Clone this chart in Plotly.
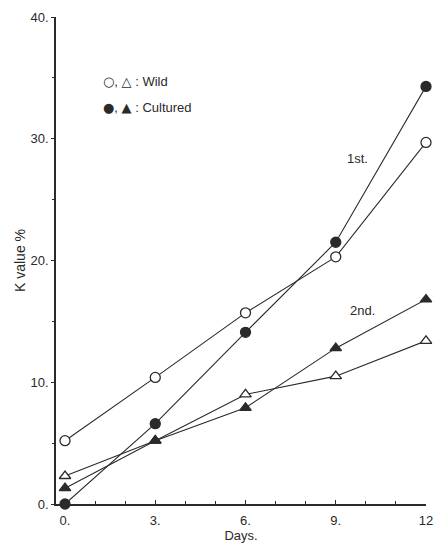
import plotly.graph_objects as go

days = [0, 3, 6, 9, 12]
wild_1st = [5.2, 10.4, 15.7, 20.3, 29.7]
cultured_1st = [0.0, 6.6, 14.1, 21.5, 34.3]
wild_2nd = [2.3, 5.2, 9.0, 10.5, 13.4]
cultured_2nd = [1.3, 5.2, 7.9, 12.8, 16.8]

x_ticks = [0, 3, 6, 9, 12]
x_ticklabels = ["0.", "3.", "6.", "9.", "12"]
y_ticks = [0, 10, 20, 30, 40]
y_ticklabels = ["0.", "10.", "20.", "30.", "40."]

ink = "#2a2a2a"
font = "Liberation Sans, Arial, sans-serif"

fig = go.Figure()

def add(y, symbol, filled, size):
    fig.add_trace(go.Scatter(
        x=days, y=y, mode="lines+markers",
        line=dict(color=ink, width=1.1),
        marker=dict(symbol=symbol, size=size,
                    color=ink if filled else "white",
                    line=dict(color=ink, width=1.3)),
        cliponaxis=False, showlegend=False))

add(wild_1st, "circle", False, 10)
add(cultured_1st, "circle", True, 10)
add(wild_2nd, "triangle-up", False, 10)
add(cultured_2nd, "triangle-up", True, 10)

sym = '<span style="font-family:DejaVu Sans;font-size:13px">%s</span>'
fig.add_annotation(x=9.72, y=28.4, text="1st.", showarrow=False,
                   font=dict(family=font, size=13, color=ink))
fig.add_annotation(x=9.9, y=15.9, text="2nd.", showarrow=False,
                   font=dict(family=font, size=13, color=ink))
fig.add_annotation(x=1.2, y=34.7, text=(sym % "○") + ", " + (sym % "△") + " : Wild",
                   showarrow=False, xanchor="left",
                   font=dict(family=font, size=13, color=ink))
fig.add_annotation(x=1.2, y=32.6, text=(sym % "●") + ", " + (sym % "▲") + " : Cultured",
                   showarrow=False, xanchor="left",
                   font=dict(family=font, size=13, color=ink))

fig.update_layout(
    width=437, height=545,
    margin=dict(l=56, r=11, t=17, b=41),
    paper_bgcolor="white", plot_bgcolor="white",
    font=dict(family=font, size=13, color=ink),
    xaxis=dict(range=[-0.3, 12], tickvals=x_ticks, ticktext=x_ticklabels,
               showgrid=False, zeroline=False, showline=True, linecolor=ink, linewidth=1.5,
               ticks="inside", ticklen=4, tickcolor=ink,
               minor=dict(dtick=1, ticks="inside", ticklen=3, tickcolor=ink),
               ticklabelstandoff=4, automargin=False,
               title=dict(text="Days.", standoff=4, font=dict(size=13))),
    yaxis=dict(range=[0, 40], tickvals=y_ticks, ticktext=y_ticklabels,
               showgrid=False, zeroline=False, showline=True, linecolor=ink, linewidth=1.5,
               ticks="outside", ticklen=3, tickcolor=ink,
               minor=dict(dtick=5, ticks="outside", ticklen=2, tickcolor=ink),
               automargin=False,
               title=dict(text="K value %", standoff=2, font=dict(size=14))),
)

fig.write_html("out.html", config={"displayModeBar": False},
               post_script="document.body.style.margin='0';")
